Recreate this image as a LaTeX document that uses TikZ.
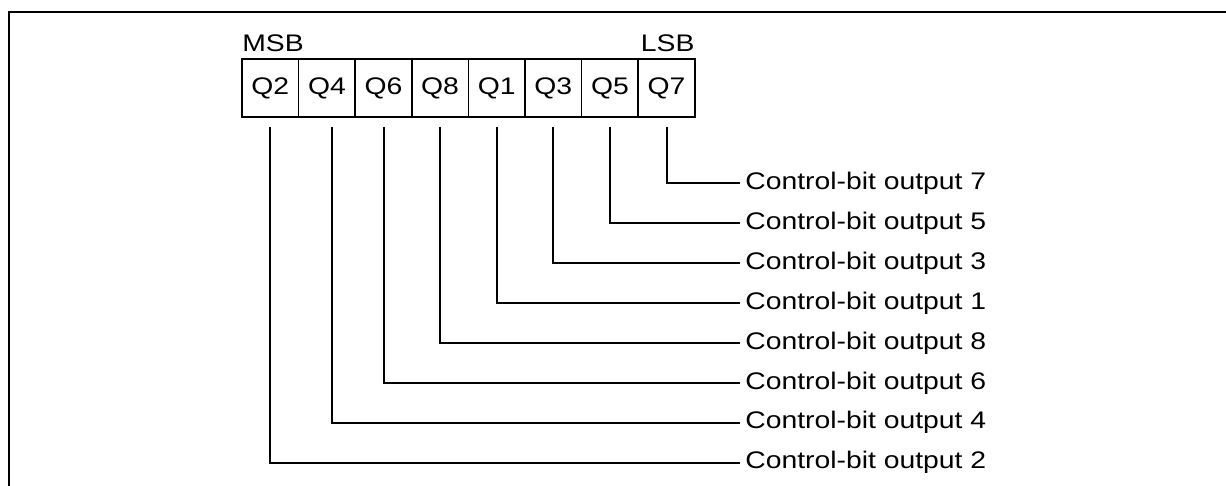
\documentclass[tikz,border=0pt]{standalone}
\usepackage{fontspec}
\setmainfont{Liberation Sans}[FakeStretch=1.18]

\begin{document}
\begin{tikzpicture}[x=0.5pt,y=-0.5pt,
    bit/.style = {rectangle,draw=black,line width=0.8pt,minimum width=28.3pt,minimum height=29pt,inner sep=0pt,outer sep=0pt,font=\fontsize{12}{14}\selectfont},
    lbl/.style = {anchor=west,inner sep=2.5pt,font=\fontsize{12}{14}\selectfont},
    wire/.style = {draw=black,line width=1pt}]
\useasboundingbox (0,0) rectangle (1226,486);
\draw[line width=1.1pt] (1226,12) -- (9,12) -- (9,486);
\foreach \q [count=\j from 0] in {2, 4, 6, 8, 1, 3, 5, 7}
    \node[bit] (q\q) at (270.3+56.6*\j, 88) {Q\q};
\node[anchor=base west,inner sep=0pt,font=\fontsize{12}{14}\selectfont] (msb) at ([yshift=3.5pt]q2.north west) {MSB};
\node[anchor=base east,inner sep=0pt,font=\fontsize{12}{14}\selectfont] (lsb) at ([yshift=3.5pt]q7.north east) {LSB};
\foreach \o [count=\j from 0] in {7, 5, 3, 1, 8, 6, 4, 2}
    \node[lbl] (out\o) at (740, 183.3+39.9*\j) {Control-bit output \o};
\foreach \q/\dx in {2/0, 4/5, 6/0, 8/0, 1/0, 3/0, 5/0, 7/0}
    \draw[wire] ([xshift=\dx*0.5pt,yshift=-5pt]q\q.south) |- (out\q.west);
\end{tikzpicture}
\end{document}
